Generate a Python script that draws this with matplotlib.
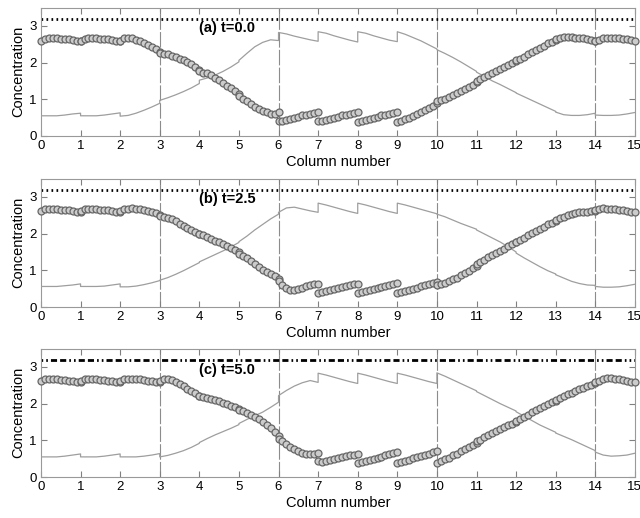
import numpy as np
import matplotlib
matplotlib.use('Agg')
import matplotlib.pyplot as plt

plt.rcParams['font.family'] = ['Liberation Sans', 'DejaVu Sans']

# circle curve: 11 samples per column (col+0.0 ... col+1.0)
circ_a = [
    [2.60, 2.64, 2.66, 2.66, 2.66, 2.65, 2.64, 2.63, 2.61, 2.59, 2.58],
    [2.60, 2.64, 2.66, 2.66, 2.66, 2.65, 2.64, 2.63, 2.61, 2.59, 2.58],
    [2.60, 2.66, 2.68, 2.67, 2.62, 2.58, 2.53, 2.47, 2.42, 2.36, 2.28],
    [2.26, 2.24, 2.23, 2.19, 2.16, 2.11, 2.06, 2.01, 1.96, 1.89, 1.80],
    [1.78, 1.72, 1.71, 1.65, 1.58, 1.52, 1.45, 1.37, 1.30, 1.22, 1.14],
    [1.10, 1.02, 0.96, 0.88, 0.80, 0.73, 0.68, 0.64, 0.61, 0.61, 0.65],
    [0.42, 0.41, 0.44, 0.47, 0.50, 0.53, 0.56, 0.58, 0.60, 0.62, 0.64],
    [0.40, 0.41, 0.44, 0.47, 0.50, 0.53, 0.56, 0.58, 0.60, 0.62, 0.64],
    [0.39, 0.41, 0.44, 0.47, 0.50, 0.53, 0.56, 0.58, 0.60, 0.62, 0.64],
    [0.38, 0.41, 0.45, 0.49, 0.54, 0.59, 0.64, 0.70, 0.76, 0.83, 0.91],
    [0.94, 0.98, 1.02, 1.06, 1.12, 1.17, 1.22, 1.28, 1.34, 1.40, 1.47],
    [1.50, 1.54, 1.60, 1.66, 1.72, 1.78, 1.83, 1.88, 1.93, 1.99, 2.05],
    [2.08, 2.11, 2.16, 2.22, 2.28, 2.34, 2.40, 2.46, 2.52, 2.57, 2.62],
    [2.65, 2.68, 2.70, 2.70, 2.69, 2.68, 2.67, 2.66, 2.64, 2.62, 2.60],
    [2.58, 2.62, 2.66, 2.68, 2.68, 2.67, 2.66, 2.64, 2.63, 2.61, 2.59],
]
circ_b = [
    [2.62, 2.66, 2.68, 2.67, 2.66, 2.65, 2.64, 2.63, 2.61, 2.60, 2.59],
    [2.62, 2.66, 2.68, 2.67, 2.66, 2.65, 2.64, 2.63, 2.61, 2.60, 2.59],
    [2.61, 2.66, 2.68, 2.69, 2.68, 2.66, 2.64, 2.62, 2.59, 2.55, 2.50],
    [2.48, 2.46, 2.43, 2.39, 2.33, 2.27, 2.21, 2.16, 2.10, 2.04, 1.98],
    [1.98, 1.96, 1.91, 1.86, 1.80, 1.76, 1.71, 1.66, 1.61, 1.55, 1.49],
    [1.45, 1.40, 1.33, 1.25, 1.17, 1.08, 1.02, 0.96, 0.90, 0.84, 0.77],
    [0.70, 0.60, 0.52, 0.47, 0.47, 0.50, 0.53, 0.57, 0.60, 0.62, 0.64],
    [0.38, 0.40, 0.43, 0.46, 0.49, 0.52, 0.55, 0.58, 0.60, 0.62, 0.63],
    [0.38, 0.40, 0.43, 0.46, 0.49, 0.52, 0.55, 0.58, 0.61, 0.64, 0.66],
    [0.38, 0.41, 0.44, 0.47, 0.50, 0.53, 0.56, 0.59, 0.62, 0.65, 0.68],
    [0.59, 0.62, 0.66, 0.70, 0.75, 0.80, 0.86, 0.92, 0.99, 1.06, 1.13],
    [1.16, 1.22, 1.28, 1.35, 1.41, 1.47, 1.53, 1.59, 1.65, 1.71, 1.76],
    [1.78, 1.83, 1.89, 1.95, 2.01, 2.07, 2.13, 2.19, 2.25, 2.30, 2.35],
    [2.38, 2.42, 2.46, 2.50, 2.54, 2.57, 2.59, 2.60, 2.60, 2.61, 2.62],
    [2.65, 2.68, 2.69, 2.68, 2.67, 2.66, 2.65, 2.64, 2.62, 2.60, 2.58],
]
circ_c = [
    [2.62, 2.66, 2.68, 2.67, 2.66, 2.65, 2.64, 2.63, 2.61, 2.60, 2.59],
    [2.62, 2.66, 2.68, 2.67, 2.66, 2.65, 2.64, 2.63, 2.61, 2.60, 2.59],
    [2.61, 2.66, 2.68, 2.68, 2.67, 2.66, 2.64, 2.63, 2.61, 2.60, 2.59],
    [2.62, 2.67, 2.68, 2.65, 2.60, 2.54, 2.47, 2.41, 2.35, 2.29, 2.22],
    [2.20, 2.18, 2.15, 2.12, 2.09, 2.06, 2.02, 1.98, 1.94, 1.90, 1.86],
    [1.84, 1.79, 1.74, 1.70, 1.64, 1.57, 1.50, 1.42, 1.33, 1.23, 1.13],
    [1.05, 0.98, 0.91, 0.83, 0.77, 0.71, 0.66, 0.63, 0.62, 0.63, 0.66],
    [0.43, 0.42, 0.44, 0.47, 0.50, 0.53, 0.55, 0.57, 0.59, 0.61, 0.63],
    [0.39, 0.41, 0.44, 0.47, 0.50, 0.53, 0.56, 0.59, 0.62, 0.65, 0.67],
    [0.39, 0.41, 0.44, 0.47, 0.51, 0.54, 0.57, 0.61, 0.64, 0.67, 0.70],
    [0.39, 0.43, 0.48, 0.53, 0.59, 0.64, 0.70, 0.76, 0.82, 0.88, 0.94],
    [0.97, 1.02, 1.08, 1.14, 1.20, 1.26, 1.31, 1.36, 1.41, 1.45, 1.49],
    [1.53, 1.58, 1.64, 1.70, 1.76, 1.82, 1.88, 1.94, 1.99, 2.04, 2.08],
    [2.11, 2.15, 2.20, 2.25, 2.30, 2.35, 2.39, 2.43, 2.47, 2.51, 2.55],
    [2.58, 2.63, 2.68, 2.71, 2.70, 2.68, 2.66, 2.64, 2.62, 2.60, 2.58],
]

# thin grey curve: 6 samples per column (col+0.0, 0.2, ... 1.0)
line_a = [
    [0.55, 0.55, 0.55, 0.57, 0.60, 0.62],
    [0.55, 0.55, 0.55, 0.57, 0.60, 0.63],
    [0.54, 0.56, 0.62, 0.70, 0.79, 0.89],
    [0.97, 1.04, 1.12, 1.21, 1.31, 1.43],
    [1.52, 1.58, 1.66, 1.76, 1.88, 2.02],
    [2.06, 2.25, 2.43, 2.55, 2.62, 2.60],
    [2.82, 2.78, 2.72, 2.67, 2.62, 2.58],
    [2.84, 2.80, 2.73, 2.67, 2.61, 2.56],
    [2.84, 2.80, 2.73, 2.67, 2.61, 2.57],
    [2.84, 2.77, 2.68, 2.59, 2.48, 2.37],
    [2.35, 2.25, 2.14, 2.02, 1.89, 1.76],
    [1.74, 1.62, 1.50, 1.40, 1.29, 1.18],
    [1.17, 1.07, 0.97, 0.87, 0.77, 0.67],
    [0.65, 0.58, 0.56, 0.56, 0.58, 0.62],
    [0.57, 0.56, 0.56, 0.57, 0.60, 0.64],
]
line_b = [
    [0.56, 0.56, 0.56, 0.58, 0.60, 0.63],
    [0.56, 0.56, 0.56, 0.57, 0.60, 0.63],
    [0.55, 0.55, 0.57, 0.61, 0.66, 0.72],
    [0.73, 0.80, 0.89, 0.99, 1.10, 1.21],
    [1.23, 1.33, 1.43, 1.53, 1.64, 1.76],
    [1.78, 1.93, 2.10, 2.25, 2.40, 2.53],
    [2.58, 2.70, 2.72, 2.67, 2.62, 2.58],
    [2.83, 2.78, 2.72, 2.66, 2.60, 2.55],
    [2.83, 2.78, 2.72, 2.66, 2.60, 2.55],
    [2.83, 2.78, 2.72, 2.66, 2.60, 2.54],
    [2.53, 2.46, 2.37, 2.28, 2.20, 2.12],
    [2.10, 1.99, 1.88, 1.77, 1.64, 1.50],
    [1.47, 1.34, 1.22, 1.10, 0.99, 0.90],
    [0.88, 0.79, 0.70, 0.64, 0.60, 0.59],
    [0.56, 0.54, 0.54, 0.55, 0.58, 0.62],
]
line_c = [
    [0.55, 0.55, 0.55, 0.57, 0.60, 0.63],
    [0.55, 0.55, 0.55, 0.57, 0.60, 0.63],
    [0.55, 0.55, 0.55, 0.57, 0.60, 0.64],
    [0.55, 0.59, 0.65, 0.72, 0.81, 0.92],
    [0.94, 1.05, 1.15, 1.24, 1.33, 1.43],
    [1.46, 1.57, 1.67, 1.77, 1.90, 2.04],
    [2.22, 2.36, 2.48, 2.57, 2.63, 2.58],
    [2.83, 2.78, 2.72, 2.66, 2.60, 2.55],
    [2.83, 2.78, 2.72, 2.66, 2.60, 2.55],
    [2.83, 2.78, 2.72, 2.66, 2.60, 2.55],
    [2.84, 2.75, 2.65, 2.55, 2.45, 2.35],
    [2.33, 2.22, 2.11, 2.00, 1.90, 1.80],
    [1.78, 1.66, 1.54, 1.42, 1.32, 1.22],
    [1.20, 1.11, 1.02, 0.92, 0.82, 0.72],
    [0.68, 0.60, 0.57, 0.58, 0.60, 0.65],
]

titles = ['(a) t=0.0', '(b) t=2.5', '(c) t=5.0']
feed_level = 3.2
port_positions = [3, 6, 10, 14]


def stitch(cols):
    xs, ys = [], []
    for c, vals in enumerate(cols):
        xs.extend(np.linspace(c, c + 1, len(vals)))
        ys.extend(vals)
    return np.array(xs), np.array(ys)


fig = plt.figure(figsize=(6.4, 5.18), dpi=100)
bottoms = [0.7375, 0.4073, 0.079]
panels = [(circ_a, line_a), (circ_b, line_b), (circ_c, line_c)]

for i, (circ, line) in enumerate(panels):
    ax = fig.add_axes([0.064, bottoms[i], 0.928, 0.248])

    for p in port_positions:
        ax.axvline(p, color='0.55', lw=0.8, ls=(0, (14, 2)), zorder=1)

    if i < 2:
        ax.axhline(feed_level, color='black', lw=2, ls=(0, (0.6, 1.2)), zorder=2)
    else:
        ax.axhline(feed_level, color='black', lw=2,
                   ls=(0, (0.6, 1.1, 0.6, 1.1, 2.2, 1.1, 2.2, 1.1)), zorder=2)

    lx, ly = stitch(line)
    ax.plot(lx, ly, color='0.62', lw=0.9, zorder=3)

    cx, cy = stitch(circ)
    ax.plot(cx, cy, ls='none', marker='o', ms=5, mfc='0.8', mec='0.4',
            mew=0.9, zorder=4, clip_on=False)

    ax.text(3.98, 2.93, titles[i], fontsize=10.5, fontweight='bold',
            va='center', ha='left', zorder=5)

    ax.set_xlim(0, 15)
    ax.set_ylim(0, 3.5)
    ax.set_xticks(range(16))
    ax.set_yticks([0, 1, 2, 3])
    ax.tick_params(direction='in', top=True, right=True, length=4,
                   color='0.5', labelsize=9.5, pad=3)
    for s in ax.spines.values():
        s.set_color('0.6')
    ax.set_xlabel('Column number', fontsize=10.5, labelpad=2)
    ax.set_ylabel('Concentration', fontsize=10.5, labelpad=3)

fig.savefig('out.png', dpi=100)
